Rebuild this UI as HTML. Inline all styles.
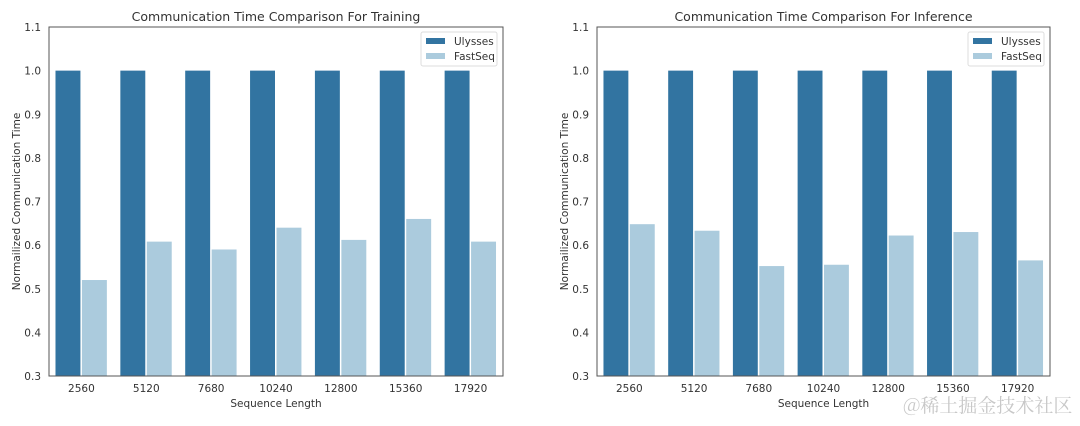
<!DOCTYPE html>
<html><head><meta charset="utf-8"><style>
body{margin:0;background:#fff;width:1080px;height:421px;overflow:hidden}
svg text{font-family:"DejaVu Sans","Liberation Sans",sans-serif;fill:#333}
</style></head><body>
<svg id="s" width="1080" height="421" xmlns="http://www.w3.org/2000/svg"></svg>
<div style="position:absolute;left:903px;top:391px;font:19px 'Noto Serif CJK SC','Noto Sans CJK SC',sans-serif;color:#c8c8c8">@稀土掘金技术社区</div>
<script>
const categories=["2560","5120","7680","10240","12800","15360","17920"];
const ulyssesTrain=[1,1,1,1,1,1,1];
const fastseqTrain=[0.52,0.608,0.59,0.64,0.612,0.66,0.608];
const ulyssesInfer=[1,1,1,1,1,1,1];
const fastseqInfer=[0.648,0.633,0.552,0.555,0.622,0.63,0.565];
const yTicks=[0.3,0.4,0.5,0.6,0.7,0.8,0.9,1.0,1.1];
const titles=["Communication Time Comparison For Training","Communication Time Comparison For Inference"];
const NS="http://www.w3.org/2000/svg";
const svg=document.getElementById('s');
function mk(tag,attrs,parent){const e=document.createElementNS(NS,tag);for(const k in attrs)e.setAttribute(k,attrs[k]);(parent||svg).appendChild(e);return e;}
function panel(x0,x1,title,u,f,key){
  const y0=27,y1=376,ymin=0.3,ymax=1.1;
  const g=mk('g',{});
  
  
  const ys=v=>y1-(v-ymin)/(ymax-ymin)*(y1-y0);
  const band=(x1-x0)/categories.length;
  const xs=i=>x0+band*(i+0.5);
  const t=mk('text',{x:(x0+x1)/2,y:21,'text-anchor':'middle','font-size':12.5},g);t.textContent=title;
  
  
  yTicks.forEach(v=>{const tt=mk('text',{x:x0-8,y:ys(v)+4,'text-anchor':'end','font-size':10.5},g);tt.textContent=v.toFixed(1);
    
    });
  const bw=band*0.4;
  categories.forEach((c,i)=>{
    const r1=mk('rect',{x:xs(i)-bw,y:ys(u[i]),width:bw-1,height:ys(ymin)-ys(u[i]),fill:'#3274a1'},g);
    
    
    const r2=mk('rect',{x:xs(i)+0.5,y:ys(f[i]),width:bw-1,height:ys(ymin)-ys(f[i]),fill:'#abcbdd'},g);
    
    
    const tl=mk('text',{x:xs(i),y:y1+16,'text-anchor':'middle','font-size':10.5},g);tl.textContent=c;
    
    
  });
  const fr=mk('rect',{x:x0,y:y0,width:x1-x0,height:y1-y0,fill:'none',stroke:'#555','stroke-width':1},g);
  
  
  const xl=mk('text',{x:(x0+x1)/2,y:407,'text-anchor':'middle','font-size':10.5},g);xl.textContent="Sequence Length";
  
  
  const yl=mk('text',{x:0,y:0,'text-anchor':'middle','font-size':10.5,transform:`translate(${x0-29},${(y0+y1)/2}) rotate(-90)`},g);yl.textContent="Normailized Communication Time";
  
  
  const lg=mk('g',{},g);
  
  
  mk('rect',{x:x1-82,y:32,width:76,height:34,fill:'#fff',stroke:'#ddd',rx:2},lg);
  [['Ulysses','#3274a1',41],['FastSeq','#abcbdd',56]].forEach(([n,c,yy])=>{
    mk('rect',{x:x1-77,y:yy-3,width:19,height:6,fill:c},lg);
    const lt=mk('text',{x:x1-49,y:yy+4,'font-size':10.5},lg);lt.textContent=n;
    
    
  });
}
panel(49,503,titles[0],ulyssesTrain,fastseqTrain,'training');
panel(597,1050,titles[1],ulyssesInfer,fastseqInfer,'inference');
</script>
</body></html>
